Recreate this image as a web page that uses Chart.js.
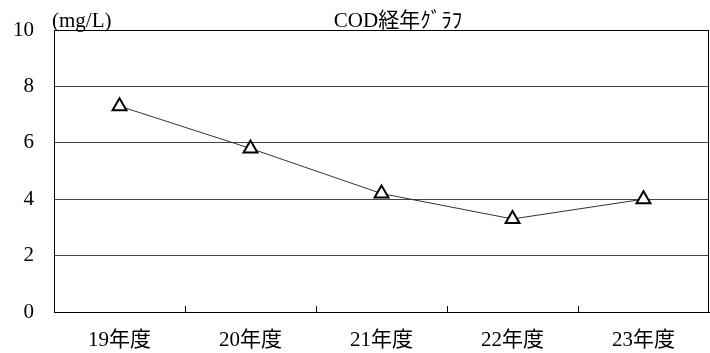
<!DOCTYPE html>
<html>
<head>
<meta charset="utf-8">
<script src="https://cdn.jsdelivr.net/npm/chart.js@4/dist/chart.umd.min.js"></script>
<style>
  body { margin: 0; background: #fff; }
  #wrap { width: 710px; height: 353px; }
</style>
</head>
<body>
<div id="wrap"><canvas id="myChart" width="710" height="353"></canvas></div>
<script>
const years = ["19年度", "20年度", "21年度", "22年度", "23年度"];
const codValues = [7.3, 5.8, 4.2, 3.3, 4.0];
const yTicks = [0, 2, 4, 6, 8, 10];
const chartTitle = "COD経年ｸﾞﾗﾌ";
const unitLabel = "(mg/L)";

const fontFamily = "'Liberation Serif', 'Noto Sans CJK JP', serif";

// frame, inner tick marks on the category axis, title and unit text
const framePlugin = {
    id: "frame",
    afterDraw(chart) {
        const ctx = chart.ctx;
        const area = chart.chartArea;
        const x = chart.scales.x;

        ctx.save();
        ctx.strokeStyle = "#000";
        ctx.lineWidth = 1;
        ctx.strokeRect(area.left + 0.5, area.top + 0.5, area.right - area.left - 1, area.bottom - area.top);

        for (let i = 1; i < years.length; i++) {
            const px = Math.round((x.getPixelForValue(i - 1) + x.getPixelForValue(i)) / 2) + 0.5;
            ctx.beginPath();
            ctx.moveTo(px, area.bottom);
            ctx.lineTo(px, area.bottom - 6);
            ctx.stroke();
        }

        ctx.fillStyle = "#000";
        ctx.font = "21px " + fontFamily;
        ctx.textBaseline = "alphabetic";
        ctx.textAlign = "left";
        ctx.fillText(unitLabel, area.left - 2, area.top - 3);
        ctx.textAlign = "center";
        ctx.fillText(chartTitle, 398, area.top - 3);
        ctx.restore();
    }
};

const config = {
    type: "line",
    data: {
        labels: years,
        datasets: [
            {
                label: "COD",
                data: codValues,
                borderColor: "#333",
                borderWidth: 1,
                tension: 0,
                pointStyle: "triangle",
                pointRadius: 8,
                pointHoverRadius: 8,
                pointBorderWidth: 2,
                pointBorderColor: "#000",
                pointBackgroundColor: "#fff",
            },
        ],
    },
    options: {
        responsive: false,
        animation: false,
        layout: {
            autoPadding: false,
            padding: { top: 30, right: 1, left: 0, bottom: 0 },
        },
        plugins: {
            legend: { display: false },
            title: { display: false },
            tooltip: { enabled: false },
        },
        scales: {
            x: {
                offset: true,
                grid: { display: false, drawTicks: false },
                border: { display: true, color: "#000", width: 1 },
                ticks: {
                    color: "#000",
                    padding: 16,
                    font: { family: fontFamily, size: 21 },
                },
                afterFit(scale) {
                    scale.height = 41;
                    scale.paddingLeft = 0;
                    scale.paddingRight = 0;
                },
            },
            y: {
                min: 0,
                max: 10,
                afterBuildTicks(scale) {
                    scale.ticks = yTicks.map(v => ({ value: v }));
                },
                grid: {
                    drawTicks: false,
                    color: ctx => (ctx.tick && ctx.tick.value === 10 ? "#000" : "#444"),
                    lineWidth: 1,
                },
                border: { display: true, color: "#000", width: 1 },
                ticks: {
                    color: "#000",
                    padding: 20,
                    font: { family: fontFamily, size: 21 },
                },
                afterFit(scale) {
                    scale.width = 54;
                    scale.paddingTop = 0;
                    scale.paddingBottom = 0;
                },
            },
        },
    },
    plugins: [framePlugin],
};

const ctx = document.getElementById("myChart").getContext("2d");
new Chart(ctx, config);
</script>
</body>
</html>
